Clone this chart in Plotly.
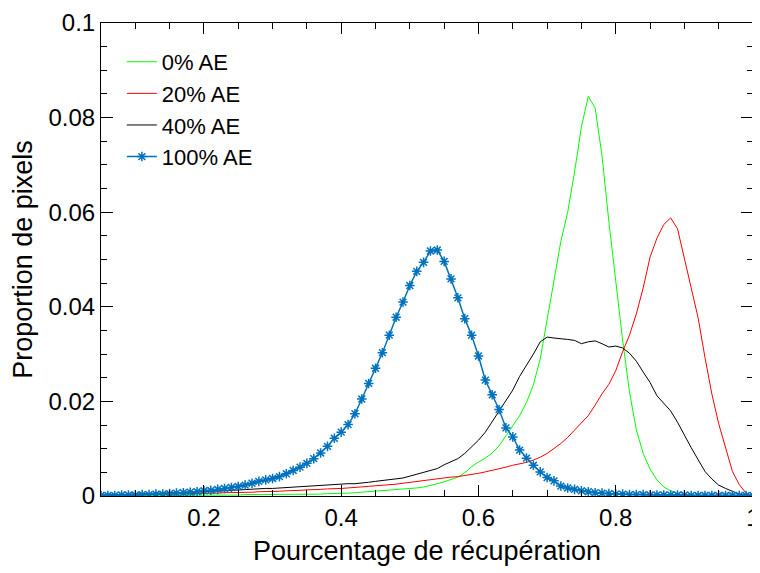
import plotly.graph_objects as go

# x grid: 0.05 .. 1.00 step 0.01
x_values = [round(0.05 + 0.01 * i, 2) for i in range(96)]

series_names = ["0% AE", "20% AE", "40% AE", "100% AE"]

ae0 = [
    0.0001, 0.0001, 0.0001, 0.0001, 0.0001, 0.0001, 0.0001, 0.0001, 0.0001, 0.0001,  # .05-.14
    0.0001, 0.0002, 0.0002, 0.0002, 0.0002, 0.0002, 0.0002, 0.0002, 0.0002, 0.0002,  # .15-.24
    0.0002, 0.0003, 0.0003, 0.0003, 0.0003, 0.0003, 0.0003, 0.0003, 0.0004, 0.0004,  # .25-.34
    0.0004, 0.0004, 0.0004, 0.0005, 0.0005, 0.0006, 0.0006, 0.0007, 0.0008, 0.0009,  # .35-.44
    0.0010, 0.0011, 0.0012, 0.0013, 0.0014, 0.0015, 0.0017, 0.0019, 0.0022, 0.0026,  # .45-.54
    0.0030, 0.0035, 0.0040, 0.0049, 0.0062, 0.0072, 0.0080, 0.0091, 0.0106, 0.0127,  # .55-.64
    0.0148, 0.0170, 0.0198, 0.0235, 0.0290, 0.0375, 0.0454, 0.0538, 0.0600, 0.0685,  # .65-.74
    0.0780, 0.0845, 0.0820, 0.0720, 0.0580, 0.0454, 0.0330, 0.0220, 0.0140, 0.0090,  # .75-.84
    0.0057, 0.0034, 0.0019, 0.0011, 0.0005, 0.0002, 0.0001, 0.0000, 0.0000, 0.0000,  # .85-.94
    0.0000, 0.0000, 0.0000, 0.0000, 0.0000, 0.0000,                                  # .95-1.00
]

ae20 = [
    0.0001, 0.0001, 0.0002, 0.0002, 0.0002, 0.0002, 0.0003, 0.0003, 0.0003, 0.0004,
    0.0004, 0.0004, 0.0005, 0.0005, 0.0005, 0.0006, 0.0006, 0.0006, 0.0007, 0.0007,
    0.0008, 0.0008, 0.0008, 0.0009, 0.0009, 0.0010, 0.0010, 0.0011, 0.0011, 0.0012,
    0.0013, 0.0013, 0.0014, 0.0015, 0.0015, 0.0016, 0.0017, 0.0018, 0.0019, 0.0020,
    0.0021, 0.0022, 0.0024, 0.0025, 0.0027, 0.0029, 0.0031, 0.0033, 0.0035, 0.0037,
    0.0038, 0.0040, 0.0041, 0.0043, 0.0046, 0.0048, 0.0051, 0.0054, 0.0057, 0.0061,
    0.0065, 0.0068, 0.0071, 0.0076, 0.0082, 0.0090, 0.0100, 0.0111, 0.0124, 0.0139,
    0.0153, 0.0170, 0.0192, 0.0216, 0.0236, 0.0265, 0.0305, 0.0340, 0.0385, 0.0440,
    0.0505, 0.0545, 0.0574, 0.0588, 0.0565, 0.0503, 0.0440, 0.0377, 0.0293, 0.0216,
    0.0153, 0.0104, 0.0052, 0.0024, 0.0006, 0.0000,
]

ae40 = [
    0.0002, 0.0002, 0.0003, 0.0003, 0.0004, 0.0004, 0.0005, 0.0005, 0.0006, 0.0006,
    0.0007, 0.0007, 0.0008, 0.0008, 0.0009, 0.0009, 0.0010, 0.0010, 0.0011, 0.0012,
    0.0013, 0.0014, 0.0014, 0.0015, 0.0016, 0.0016, 0.0017, 0.0018, 0.0019, 0.0020,
    0.0021, 0.0022, 0.0023, 0.0024, 0.0024, 0.0025, 0.0026, 0.0026, 0.0027, 0.0029,
    0.0031, 0.0033, 0.0034, 0.0036, 0.0038, 0.0042, 0.0046, 0.0050, 0.0054, 0.0058,
    0.0066, 0.0073, 0.0079, 0.0090, 0.0104, 0.0118, 0.0135, 0.0157, 0.0178, 0.0200,
    0.0224, 0.0253, 0.0276, 0.0300, 0.0326, 0.0336, 0.0334, 0.0333, 0.0331, 0.0329,
    0.0322, 0.0326, 0.0328, 0.0322, 0.0315, 0.0317, 0.0313, 0.0302, 0.0285, 0.0262,
    0.0240, 0.0212, 0.0195, 0.0180, 0.0156, 0.0128, 0.0102, 0.0077, 0.0052, 0.0036,
    0.0023, 0.0016, 0.0010, 0.0004, 0.0001, 0.0000,
]

ae100 = [
    0.0001, 0.0001, 0.0001, 0.0002, 0.0002, 0.0002, 0.0003, 0.0003, 0.0004, 0.0004,
    0.0005, 0.0006, 0.0007, 0.0008, 0.0009, 0.0011, 0.0012, 0.0014, 0.0016, 0.0018,
    0.0020, 0.0023, 0.0027, 0.0031, 0.0034, 0.0037, 0.0041, 0.0047, 0.0054, 0.0061,
    0.0069, 0.0079, 0.0091, 0.0105, 0.0122, 0.0135, 0.0151, 0.0174, 0.0205, 0.0238,
    0.0270, 0.0303, 0.0340, 0.0378, 0.0410, 0.0445, 0.0475, 0.0494, 0.0518, 0.0520,
    0.0496, 0.0459, 0.0419, 0.0375, 0.0340, 0.0296, 0.0245, 0.0214, 0.0183, 0.0144,
    0.0125, 0.0097, 0.0080, 0.0065, 0.0051, 0.0039, 0.0032, 0.0021, 0.0017, 0.0014,
    0.0011, 0.0009, 0.0007, 0.0006, 0.0005, 0.0004, 0.0004, 0.0003, 0.0003, 0.0003,
    0.0002, 0.0002, 0.0002, 0.0002, 0.0002, 0.0002, 0.0001, 0.0001, 0.0001, 0.0001,
    0.0001, 0.0001, 0.0001, 0.0001, 0.0001, 0.0001,
]

x_tick_vals = [0.2, 0.4, 0.6, 0.8, 1.0]
x_tick_text = ["0.2", "0.4", "0.6", "0.8", "1"]
y_tick_vals = [0, 0.02, 0.04, 0.06, 0.08, 0.1]
y_tick_text = ["0", "0.02", "0.04", "0.06", "0.08", "0.1"]

FONT = "Liberation Sans, Arial, Helvetica, sans-serif"

fig = go.Figure()
fig.add_trace(go.Scatter(x=x_values, y=ae0, mode="lines", name=series_names[0],
                         line=dict(color="#00ff00", width=1)))
fig.add_trace(go.Scatter(x=x_values, y=ae20, mode="lines", name=series_names[1],
                         line=dict(color="#ff0000", width=1)))
fig.add_trace(go.Scatter(x=x_values, y=ae40, mode="lines", name=series_names[2],
                         line=dict(color="#000000", width=1)))
fig.add_trace(go.Scatter(x=x_values, y=ae100, mode="lines+markers", name=series_names[3],
                         line=dict(color="#0072bd", width=1.5),
                         marker=dict(symbol="asterisk-open", size=8,
                                     line=dict(color="#0072bd", width=1.5))))

fig.update_xaxes(
    range=[0.05, 1.0], tickmode="array", tickvals=x_tick_vals, ticktext=x_tick_text,
    showline=True, linecolor="black", linewidth=1, mirror="allticks",
    ticks="inside", ticklen=11, tickwidth=1, tickcolor="black",
    showgrid=False, zeroline=False, ticklabeloverflow="allow", automargin=False,
    minor=dict(dtick=0.05, ticks="inside", ticklen=6, tickcolor="black"),
    tickfont=dict(family=FONT, size=24, color="black"),
    title=dict(text="Pourcentage de récupération",
               font=dict(family=FONT, size=27, color="black"), standoff=11),
)
fig.update_yaxes(
    range=[0, 0.1], tickmode="array", tickvals=y_tick_vals, ticktext=y_tick_text,
    showline=True, linecolor="black", linewidth=1, mirror="allticks",
    ticks="inside", ticklen=12, tickwidth=1, tickcolor="black",
    showgrid=False, zeroline=False, ticklabeloverflow="allow", automargin=False,
    minor=dict(dtick=0.005, ticks="inside", ticklen=6, tickcolor="black"),
    tickfont=dict(family=FONT, size=24, color="black"),
    title=dict(text="Proportion de pixels",
               font=dict(family=FONT, size=27, color="black"), standoff=8),
)

fig.update_layout(
    template="simple_white",
    width=760, height=573,
    margin=dict(l=93, r=15, t=15, b=85),
    plot_bgcolor="white", paper_bgcolor="white",
    font=dict(family=FONT, size=22, color="black"),
    legend=dict(x=0.032, y=0.962, xanchor="left", yanchor="top",
                bgcolor="rgba(0,0,0,0)", font=dict(family=FONT, size=22)),
    showlegend=True,
)

fig.write_html("out.html")
